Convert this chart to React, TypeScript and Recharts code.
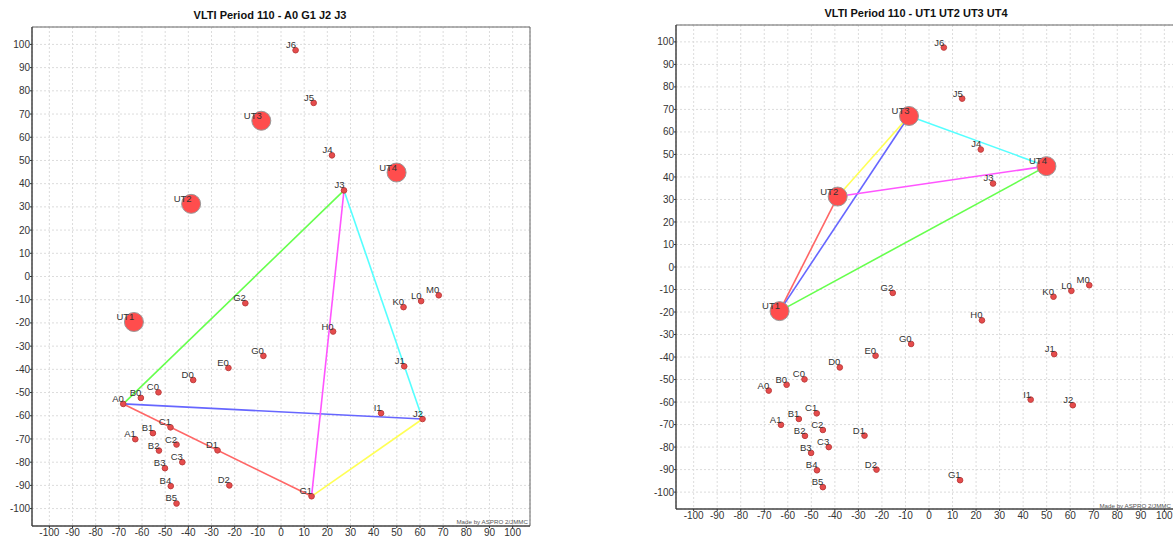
import { ScatterChart, Scatter, XAxis, YAxis, CartesianGrid, ReferenceArea } from 'recharts'

// VLTI station positions (m)
const stationNames = ['A0', 'A1', 'B0', 'B1', 'B2', 'B3', 'B4', 'B5', 'C0', 'C1', 'C2', 'C3', 'D0', 'D1', 'D2', 'E0', 'G0', 'G1', 'G2', 'H0', 'I1', 'J1', 'J2', 'J3', 'J4', 'J5', 'J6', 'K0', 'L0', 'M0']
const stationX = [-68.1, -62.9, -60.5, -55.3, -52.7, -50.1, -47.6, -45.1, -52.9, -47.7, -45.1, -42.6, -37.9, -27.4, -22.3, -22.7, -7.6, 13.2, -15.4, 22.5, 43.2, 53.2, 61.1, 27.2, 22.0, 14.1, 6.3, 52.9, 60.5, 68.1]
const stationY = [-54.9, -70.1, -52.3, -67.5, -75.0, -82.6, -90.3, -97.8, -49.9, -65.0, -72.4, -80.0, -44.6, -74.9, -90.0, -39.4, -34.2, -94.7, -11.5, -23.7, -58.9, -38.7, -61.4, 37.1, 52.2, 74.8, 97.5, -13.2, -10.6, -8.1]

const utNames = ['UT1', 'UT2', 'UT3', 'UT4']
const utX = [-63.5, -38.8, -8.5, 49.9]
const utY = [-19.6, 31.3, 67.1, 44.8]

const ticks = [-100, -90, -80, -70, -60, -50, -40, -30, -20, -10, 0, 10, 20, 30, 40, 50, 60, 70, 80, 90, 100]

// baseline colours, in pair order (1-2, 1-3, 1-4, 2-3, 2-4, 3-4)
const pairColors = ['#ff6666', '#6666ff', '#66ff4d', '#ffff55', '#ff55ff', '#55ffff']

const leftConfig = ['A0', 'G1', 'J2', 'J3']
const rightConfig = ['UT1', 'UT2', 'UT3', 'UT4']

const FONT = '"Liberation Sans", Arial, sans-serif'
const LIM = 107.5

const stations = stationNames.map((name, i) => ({ name, x: stationX[i], y: stationY[i] }))
const uts = utNames.map((name, i) => ({ name, x: utX[i], y: utY[i] }))
const allPos = [...stations, ...uts]

function makeDot(r: number, fill: string, stroke: string) {
  return (props: any) => {
    const { cx, cy, payload } = props
    if (cx == null || cy == null) return <g />
    return (
      <g>
        <circle cx={cx} cy={cy} r={r} fill={fill} stroke={stroke} strokeWidth={1} />
        <text x={cx + 0.5} y={cy - 2} textAnchor='end' fontSize={9.5} fontFamily={FONT} fill='#333'>
          {payload.name}
        </text>
      </g>
    )
  }
}

const smallDot = makeDot(2.8, '#e64c4c', '#c04040')
const bigDot = makeDot(9.5, '#ff4d4d', '#999')

function Panel({ config, width, height, margin, yWidth, xHeight }: any) {
  const pos = config.map((n: string) => allPos.find((p) => p.name === n)!)
  const segs: any[] = []
  for (let i = 0; i < pos.length; i++)
    for (let j = i + 1; j < pos.length; j++) segs.push([pos[i], pos[j]])

  return (
    <ScatterChart width={width} height={height} margin={margin}>
      <CartesianGrid stroke='#dcdcdc' strokeDasharray='2 2' />
      <ReferenceArea x1={-LIM} x2={LIM} y1={-LIM} y2={LIM} fill='none' stroke='#666' strokeWidth={1} />
      <XAxis
        type='number'
        dataKey='x'
        domain={[-LIM, LIM]}
        ticks={ticks}
        allowDataOverflow
        height={xHeight}
        tickSize={2}
        tickMargin={1}
        stroke='#333'
        tick={{ fontSize: 10, fontFamily: FONT, fill: '#333' }}
        interval={0}
      />
      <YAxis
        type='number'
        dataKey='y'
        domain={[-LIM, LIM]}
        ticks={ticks}
        allowDataOverflow
        width={yWidth}
        tickSize={2}
        tickMargin={0}
        stroke='#333'
        tick={{ fontSize: 10, fontFamily: FONT, fill: '#333' }}
        interval={0}
      />
      {segs.map((s, k) => (
        <Scatter
          key={k}
          data={s}
          line={{ stroke: pairColors[k], strokeWidth: 1.6 }}
          shape={() => <g />}
          isAnimationActive={false}
        />
      ))}
      <Scatter data={stations} shape={smallDot} isAnimationActive={false} />
      <Scatter data={uts} shape={bigDot} isAnimationActive={false} />
    </ScatterChart>
  )
}

const titleStyle: any = {
  position: 'absolute',
  width: 540,
  textAlign: 'center',
  fontFamily: FONT,
  fontWeight: 'bold',
  fontSize: 11,
  color: '#111',
}

const footStyle: any = {
  position: 'absolute',
  fontFamily: FONT,
  fontSize: 6.2,
  color: '#555',
  whiteSpace: 'nowrap',
}

export default function App() {
  return (
    <div style={{ position: 'absolute', left: 0, top: 0, width: 1173, height: 542, overflow: 'hidden', background: '#fff' }}>
      <div style={{ ...titleStyle, left: 0, top: 9 }}>VLTI Period 110 - A0 G1 J2 J3</div>
      <div style={{ ...titleStyle, left: 646, top: 7 }}>VLTI Period 110 - UT1 UT2 UT3 UT4</div>

      <div style={{ position: 'absolute', left: 0, top: 0 }}>
        <Panel config={leftConfig} width={560} height={542} margin={{ top: 27, right: 30, bottom: 0, left: 0 }} yWidth={32} xHeight={16} />
      </div>
      <div style={{ position: 'absolute', left: 640, top: 0 }}>
        <Panel config={rightConfig} width={560} height={542} margin={{ top: 25, right: 18, bottom: 15, left: 0 }} yWidth={36} xHeight={18} />
      </div>

      <div style={{ ...footStyle, right: 1173 - 528, top: 518 }}>Made by ASPRO 2/JMMC</div>
      <div style={{ ...footStyle, right: 2, top: 502 }}>Made by ASPRO 2/JMMC</div>
    </div>
  )
}
